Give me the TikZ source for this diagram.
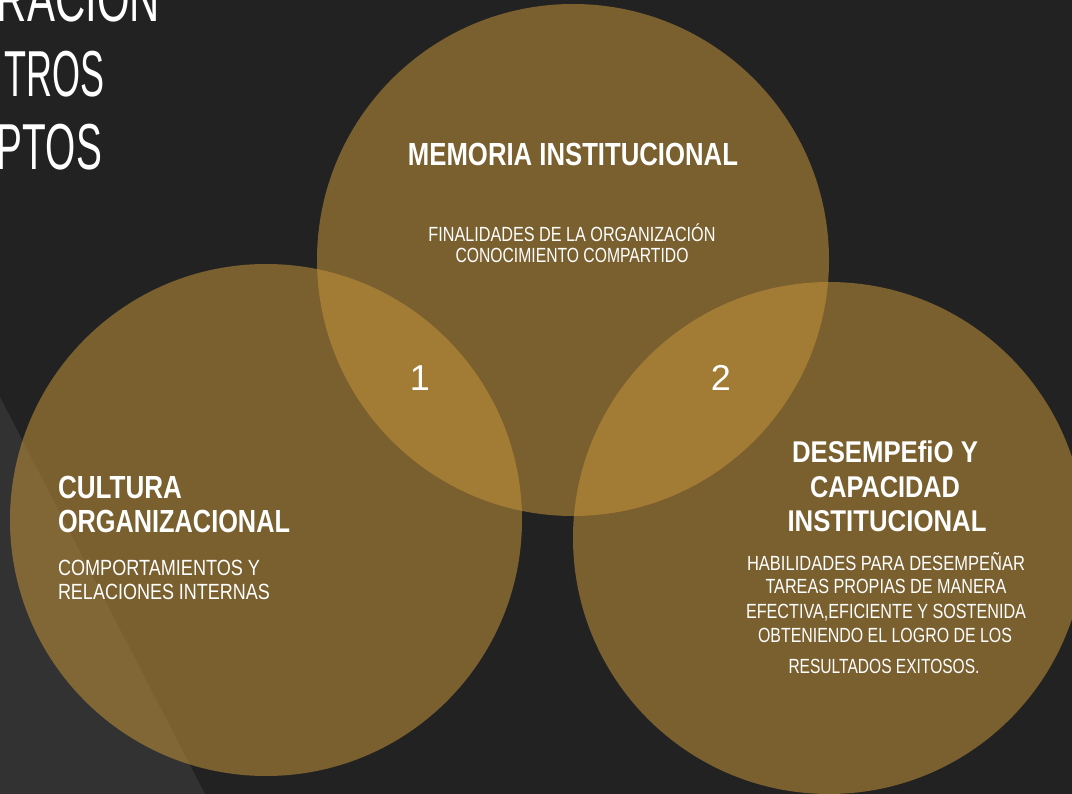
\documentclass[tikz,border=0pt]{standalone}
\usepackage{fontspec}
\setmainfont{Liberation Sans}
\usepackage{graphicx}
\newcommand\fitt[2]{\resizebox{#1}{\height}{#2}}
\definecolor{bgc}{RGB}{34,34,34}
\definecolor{tric}{RGB}{50,50,50}
\definecolor{goldc}{RGB}{195,146,58}
\begin{document}
\begin{tikzpicture}[x=1pt,y=-1pt,
  txt/.style={text=white,inner sep=0pt,outer sep=0pt},
  circ/.style={circle,fill=goldc,fill opacity=0.55,minimum size=512pt,inner sep=0pt,draw=none},
  title/.style={txt,anchor=base east,font=\fontsize{65}{70}\selectfont},
  head/.style={txt,anchor=base,font=\fontsize{32}{36}\selectfont\bfseries},
  body/.style={txt,anchor=base,font=\fontsize{20.5}{24}\selectfont},
  num/.style={txt,anchor=base,font=\fontsize{36}{40}\selectfont}]
\useasboundingbox (0,0) rectangle (1072,794);
\fill[bgc] (0,0) rectangle (1072,794);
\begin{scope}
\clip (0,0) rectangle (1072,794);
\fill[tric] (0,397) -- (205,794) -- (0,794) -- cycle;
\node[circ] (mem) at (573,260) {};
\node[circ] (cul) at (266,520) {};
\node[circ] (des) at (829,538) {};
% title (cut off)
\node[title] (t1) at (160,22) {\fitt{163pt}{RACION}};
\node[title] (t2) at (105,97) {\fitt{100pt}{TROS}};
\node[title] (t3) at (102,170) {\fitt{105pt}{PTOS}};
\end{scope}
% top circle
\node[head] (memh) at (573,166) {\fitt{330pt}{MEMORIA INSTITUCIONAL}};
\node[body] (memb1) at (572,242) {\fitt{287pt}{FINALIDADES DE LA ORGANIZACIÓN}};
\node[body] (memb2) at (572,263) {\fitt{233pt}{CONOCIMIENTO COMPARTIDO}};
% numbers
\node[num] (n1) at (420,391) {1};
\node[num] (n2) at (721,391) {2};
% left circle
\node[head,anchor=base west] (culh1) at (58,499) {\fitt{124pt}{CULTURA}};
\node[head,anchor=base west] (culh2) at (58,532) {\fitt{232pt}{ORGANIZACIONAL}};
\node[body,anchor=base west,font=\fontsize{22}{26}\selectfont] (culb1) at (58,575) {\fitt{202pt}{COMPORTAMIENTOS Y}};
\node[body,anchor=base west,font=\fontsize{22}{26}\selectfont] (culb2) at (58,599) {\fitt{212pt}{RELACIONES INTERNAS}};
% right circle
\node[head,font=\fontsize{30}{34}\selectfont\bfseries] (desh1) at (885,463) {\fitt{186pt}{DESEMPEfiO Y}};
\node[head,font=\fontsize{30}{34}\selectfont\bfseries] (desh2) at (885,497) {\fitt{150pt}{CAPACIDAD}};
\node[head,font=\fontsize{30}{34}\selectfont\bfseries] (desh3) at (887,531) {\fitt{199pt}{INSTITUCIONAL}};
\node[body] (desb1) at (886,570) {\fitt{278pt}{HABILIDADES PARA DESEMPEÑAR}};
\node[body] (desb2) at (886,593) {\fitt{241pt}{TAREAS PROPIAS DE MANERA}};
\node[body] (desb3) at (886,618) {\fitt{280pt}{EFECTIVA,EFICIENTE Y SOSTENIDA}};
\node[body] (desb4) at (885,642) {\fitt{254pt}{OBTENIENDO EL LOGRO DE LOS}};
\node[body] (desb5) at (884,673) {\fitt{191pt}{RESULTADOS EXITOSOS.}};
\end{tikzpicture}
\end{document}
